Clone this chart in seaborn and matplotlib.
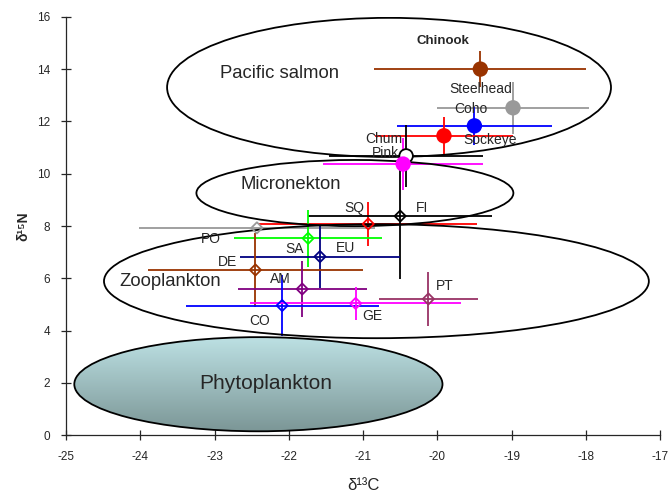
import numpy as np
import pandas as pd
import matplotlib
matplotlib.use("Agg")
import matplotlib.pyplot as plt
from matplotlib.patches import Ellipse
from matplotlib.colors import LinearSegmentedColormap
import seaborn as sns

# points: stable isotope means with +/- 1 SD
species = ["Chinook", "Steelhead", "Coho", "Sockeye", "Chum", "Pink",
           "SQ", "FI", "PO", "SA", "EU", "DE", "AM", "CO", "GE", "PT"]
d13c = [-19.42, -18.98, -19.50, -19.91, -20.42, -20.46,
        -20.93, -20.50, -22.43, -21.74, -21.58, -22.45, -21.82, -22.09, -21.10, -20.12]
d15n = [14.00, 12.52, 11.83, 11.45, 10.68, 10.37,
        8.08, 8.38, 7.93, 7.53, 6.83, 6.32, 5.59, 4.96, 5.04, 5.21]
c_sd = [1.43, 1.03, 1.04, 0.93, 1.04, 1.08,
        1.47, 1.24, 1.59, 1.00, 1.08, 1.45, 0.87, 1.30, 1.42, 0.67]
n_sd = [0.70, 1.00, 0.72, 0.72, 1.20, 1.00,
        0.84, 2.40, 0.00, 1.09, 1.19, 1.42, 1.07, 1.15, 0.64, 1.05]
group = ["salmon"] * 6 + ["prey"] * 10
colors = ["#993300", "#999999", "#0000FF", "#FF0000", "#000000", "#FF00FF",
          "#FF0000", "#000000", "#999999", "#00FF00", "#000080", "#993300",
          "#800080", "#0000FF", "#FF00FF", "#993366"]

# label positions
lab_x = [-19.92, -19.41, -19.55, -19.29, -20.72, -20.70,
         -21.12, -20.21, -23.05, -21.92, -21.24, -22.83, -22.12, -22.40, -20.87, -19.90]
lab_y = [15.08, 13.24, 12.48, 11.29, 11.33, 10.79,
         8.69, 8.69, 7.50, 7.12, 7.16, 6.62, 5.97, 4.36, 4.56, 5.70]
lab_text = ["Chinook", "Steelhead", "Coho", "Sockeye", "Chum", "Pink",
            "SQ", "FI", "PO", "SA", "EU", "DE", "AM", "CO", "GE", "PT"]

# trophic groups (ellipses)
grp_names = ["Pacific salmon", "Micronekton", "Zooplankton", "Phytoplankton"]
grp_cx = [-20.65, -21.11, -20.82, -22.41]
grp_cy = [13.30, 9.26, 5.89, 1.95]
grp_w = [5.98, 4.27, 7.34, 4.96]
grp_h = [5.32, 2.53, 4.36, 3.60]
grp_lx = [-22.12, -21.98, -23.60, -22.31]
grp_ly = [13.82, 9.57, 5.89, 1.99]

df = pd.DataFrame({"species": species, "d13c": d13c, "d15n": d15n,
                   "c_sd": c_sd, "n_sd": n_sd, "group": group, "color": colors})

sns.set_style("ticks")
plt.rcParams['font.family'] = ['Liberation Sans', 'DejaVu Sans']
plt.rcParams['axes.unicode_minus'] = False

fig = plt.figure(figsize=(6.68, 4.94), dpi=100)
ax = fig.add_axes([0.099, 0.119, 0.889, 0.847])

# ellipses
for i in range(len(grp_names)):
    e = Ellipse((grp_cx[i], grp_cy[i]), grp_w[i], grp_h[i], fill=False,
                edgecolor="black", linewidth=1.3, zorder=4)
    ax.add_patch(e)
    if grp_names[i] == "Phytoplankton":
        cmap = LinearSegmentedColormap.from_list("phy", ["#BDE1E4", "#7C9797"])
        grad = np.linspace(0, 1, 100).reshape(-1, 1)
        im = ax.imshow(grad, cmap=cmap, aspect="auto", zorder=1,
                       extent=[grp_cx[i] - grp_w[i] / 2, grp_cx[i] + grp_w[i] / 2,
                               grp_cy[i] - grp_h[i] / 2, grp_cy[i] + grp_h[i] / 2],
                       origin="upper")
        clip = Ellipse((grp_cx[i], grp_cy[i]), grp_w[i], grp_h[i], transform=ax.transData)
        im.set_clip_path(clip)
    fs = 15 if grp_names[i] == "Phytoplankton" else 13.3
    ax.text(grp_lx[i], grp_ly[i], grp_names[i], ha="center", va="center",
            fontsize=fs, zorder=6)

# error bars
for _, r in df.iterrows():
    ax.errorbar(r.d13c, r.d15n, xerr=r.c_sd, yerr=r.n_sd, fmt="none",
                ecolor=r.color, elinewidth=1.3, capsize=0, zorder=3)

# markers
sal = df[df.group == "salmon"]
face = [c if s != "Chum" else "white" for s, c in zip(sal.species, sal.color)]
sns.scatterplot(data=sal, x="d13c", y="d15n", hue="species",
                palette=dict(zip(sal.species, face)), s=95, marker="o",
                edgecolor=list(sal.color), linewidth=1.3, legend=False, ax=ax, zorder=5)

prey = df[df.group == "prey"]
sns.scatterplot(data=prey, x="d13c", y="d15n", hue="species",
                palette=dict(zip(prey.species, prey.color)), s=32, marker="D",
                edgecolor=list(prey.color), linewidth=1.3, legend=False, ax=ax, zorder=5)
ax.collections[-1].set_facecolor("none")

for x, y, t in zip(lab_x, lab_y, lab_text):
    ax.text(x, y, t, ha="center", va="center",
            fontsize=9.5 if t == "Chinook" else 10,
            fontweight="bold" if t == "Chinook" else "normal", zorder=6)

ax.set_xlim(-25, -17)
ax.set_ylim(0, 16)
ax.set_xticks(range(-25, -16))
ax.set_yticks(range(0, 17, 2))
ax.tick_params(direction="inout", length=7, width=0.9, labelsize=8.5, pad=8)
for sp in ["top", "right"]:
    ax.spines[sp].set_visible(False)
for sp in ["left", "bottom"]:
    ax.spines[sp].set_linewidth(0.9)
ax.set_xlabel("δ¹³C", fontsize=12, labelpad=11)
ax.set_ylabel("δ¹⁵N", fontsize=10, fontweight="bold", labelpad=5)

fig.savefig("out.png", dpi=100)
